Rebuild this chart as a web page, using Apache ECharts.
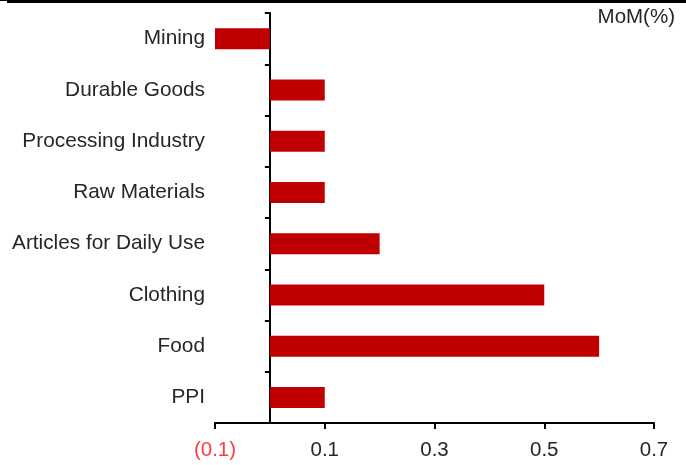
<!DOCTYPE html>
<html>
<head>
<meta charset="utf-8">
<script src="https://cdn.jsdelivr.net/npm/echarts@6/dist/echarts.min.js"></script>
<style>
  html, body { margin: 0; padding: 0; background: #fff; }
  #chart { width: 686px; height: 465px; }
</style>
</head>
<body>
<div id="chart"></div>
<script>
// Month-on-month price change by sector, top to bottom
const categories = ['Mining', 'Durable Goods', 'Processing Industry', 'Raw Materials',
  'Articles for Daily Use', 'Clothing', 'Food', 'PPI'];
const momValues = [-0.1, 0.1, 0.1, 0.1, 0.2, 0.5, 0.6, 0.1];
const xTickValues = [-0.1, 0.1, 0.3, 0.5, 0.7];
const unitLabel = 'MoM(%)';

const FONT = '"Liberation Sans", Arial, sans-serif';
const TEXT = '#262626';

function fmtTick(v) {
  const s = Math.abs(v).toFixed(1);
  return v < 0 ? '(' + s + ')' : s;
}

const chart = echarts.init(document.getElementById('chart'), null, { renderer: 'canvas' });
chart.setOption({
  animation: false,
  backgroundColor: '#fff',
  textStyle: { fontFamily: FONT },
  grid: { left: 215, right: 32, top: 13, bottom: 42, containLabel: false },
  xAxis: {
    type: 'value',
    min: -0.1,
    max: 0.7,
    interval: 0.1,
    splitLine: { show: false },
    axisLine: { show: true, onZero: false, lineStyle: { color: '#000', width: 2 } },
    axisTick: { show: true, customValues: xTickValues, length: 6, lineStyle: { color: '#000', width: 2 } },
    axisLabel: {
      customValues: xTickValues,
      formatter: fmtTick,
      color: function (v) { return v < 0 ? '#FF3B3B' : TEXT; },
      fontSize: 20.5,
      fontFamily: FONT,
      margin: 17
    }
  },
  yAxis: [
    {
      // category labels at the left edge of the plot
      type: 'category',
      position: 'left',
      inverse: true,
      data: categories,
      axisLine: { show: false, onZero: false },
      axisTick: { show: false },
      axisLabel: { color: TEXT, fontSize: 20.8, fontFamily: FONT, margin: 10 }
    },
    {
      // axis line and ticks sitting on zero
      type: 'category',
      position: 'left',
      inverse: true,
      data: categories,
      axisLine: { show: true, onZero: true, lineStyle: { color: '#000', width: 2 } },
      axisTick: { show: true, length: 5, lineStyle: { color: '#000', width: 2 } },
      axisLabel: { show: false }
    }
  ],
  series: [{
    type: 'bar',
    yAxisIndex: 0,
    data: momValues,
    barWidth: 21,
    itemStyle: { color: '#C00000' }
  }],
  graphic: [
    { type: 'rect', shape: { x: 7, y: 0, width: 679, height: 3 }, style: { fill: '#000' }, silent: true },
    { type: 'rect', shape: { x: 0, y: 0, width: 7, height: 1 }, style: { fill: '#000' }, silent: true },
    {
      type: 'text',
      x: 675, y: 17,
      style: { text: unitLabel, fill: TEXT, font: '20.5px ' + FONT, textAlign: 'right', textVerticalAlign: 'middle' }
    }
  ]
});
</script>
</body>
</html>
